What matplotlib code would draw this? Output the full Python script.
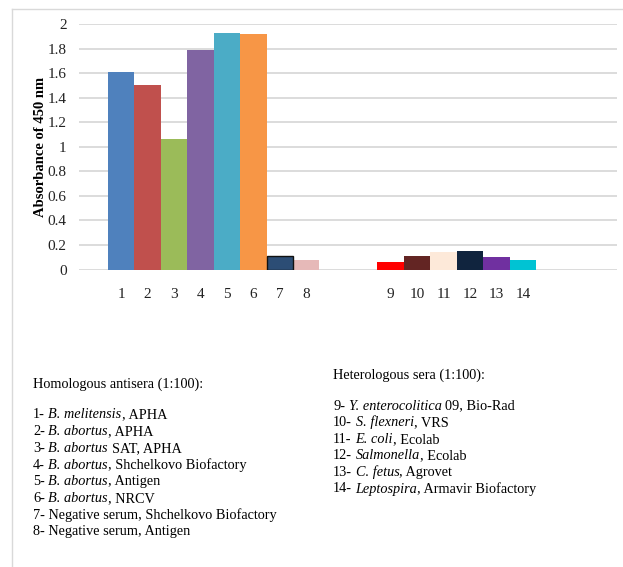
import matplotlib
matplotlib.use("Agg")
import matplotlib.pyplot as plt
from matplotlib.lines import Line2D

plt.rcParams['font.family'] = ['Liberation Serif', 'DejaVu Serif']

# homologous antisera (bars 1-8) and heterologous sera (bars 9-14)
homo_labels = ['1', '2', '3', '4', '5', '6', '7', '8']
homo_values = [1.61, 1.50, 1.06, 1.79, 1.93, 1.92, 0.11, 0.08]
homo_colors = ['#4F81BD', '#C0504D', '#9BBB59', '#8064A2',
               '#4BACC6', '#F79646', '#2C4D75', '#E6B9B8']

hetero_labels = ['9', '10', '11', '12', '13', '14']
hetero_values = [0.06, 0.11, 0.14, 0.15, 0.10, 0.08]
hetero_colors = ['#FF0000', '#632523', '#FDE9D9', '#10243E', '#7030A0', '#00C3D3']

# *...* marks italic parts
homo_text = [
    '1- *B. melitensis*, APHA',
    '2- *B. abortus*, APHA',
    '3- *B. abortus* SAT, APHA',
    '4- *B. abortus*, Shchelkovo Biofactory',
    '5- *B. abortus*, Antigen',
    '6- *B. abortus*, NRCV',
    '7- Negative serum, Shchelkovo Biofactory',
    '8- Negative serum, Antigen',
]
hetero_text = [
    '9- *Y. enterocolitica* 09, Bio-Rad',
    '10- *S. flexneri*, VRS',
    '11- *E. coli*, Ecolab',
    '12- *Salmonella*, Ecolab',
    '13- *C. fetus*, Agrovet',
    '14- *Leptospira*, Armavir Biofactory',
]

W, H = 623, 567
fig = plt.figure(figsize=(W / 100, H / 100), dpi=100)
ax = fig.add_axes([79 / W, 1 - 269.6 / H, 538 / W, 245.6 / H])

# bar positions: group 1 at 1..8, group 2 after a gap
x1 = list(range(1, 9))
x2 = [11.19 + i for i in range(6)]

ax.bar(x1, homo_values, width=1.0, color=homo_colors, zorder=3)
ax.bar(x1[6], homo_values[6], width=1.0, color=homo_colors[6],
       edgecolor='#111111', linewidth=1.0, zorder=4)
ax.bar(x2, hetero_values, width=1.0, color=hetero_colors, zorder=3)

ax.set_xlim(-0.59, 19.75)
ax.set_ylim(0, 2)
ax.set_yticks([0, 0.2, 0.4, 0.6, 0.8, 1, 1.2, 1.4, 1.6, 1.8, 2])
ax.set_yticklabels(['0', '0.2', '0.4', '0.6', '0.8', '1', '1.2', '1.4', '1.6', '1.8', '2'])
ax.set_xticks(x1 + x2)
ax.set_xticklabels(homo_labels + hetero_labels)
ax.tick_params(axis='y', length=0, pad=9, labelsize=11, colors='#222222')
ax.tick_params(axis='x', length=0, pad=13, labelsize=11, colors='#222222')
ax.grid(axis='y', color='#D9D9D9', linewidth=1.3, zorder=0)
ax.set_axisbelow(True)
for s in ax.spines.values():
    s.set_visible(False)
ax.set_ylabel('Absorbance of 450 nm', fontsize=10.5, fontweight='bold', labelpad=0)

# thin frame lines (top and left only)
fig.add_artist(Line2D([12 / W, 12 / W], [0, 1 - 9 / H], color='#D9D9D9', linewidth=1))
fig.add_artist(Line2D([12 / W, 1], [1 - 9 / H, 1 - 9 / H], color='#D9D9D9', linewidth=1))

# legend text blocks; italic and upright parts drawn side by side
fs = 10.3
r = fig.canvas.get_renderer()


def text_width(s, style='normal'):
    t = fig.text(0, 0, s, fontsize=fs, style=style)
    w = t.get_window_extent(r).width
    t.remove()
    return w


def advance(s, style):
    # pen advance of s, trailing spaces included
    return text_width(s + '|', style) - text_width('|', style)


space_w = text_width('a a') - text_width('aa')


def draw_rich(x_px, y_px, s):
    x = x_px
    base = 1 - (y_px + 4.5) / H
    for k, seg in enumerate(s.split('*')):
        if not seg:
            continue
        style = 'italic' if k % 2 else 'normal'
        body = seg.lstrip(' ')
        x += (len(seg) - len(body)) * space_w
        fig.text(x / W, base, body.rstrip(' '), fontsize=fs, style=style,
                 va='baseline')
        x += advance(body, style)


draw_rich(33, 383, 'Homologous antisera (1:100):')
for i, line in enumerate(homo_text):
    draw_rich(33, 414 + 16.7 * i, line)

draw_rich(333, 374, 'Heterologous sera (1:100):')
for i, line in enumerate(hetero_text):
    draw_rich(333, 405 + 16.6 * i, line)

fig.savefig('out.png', dpi=100)
